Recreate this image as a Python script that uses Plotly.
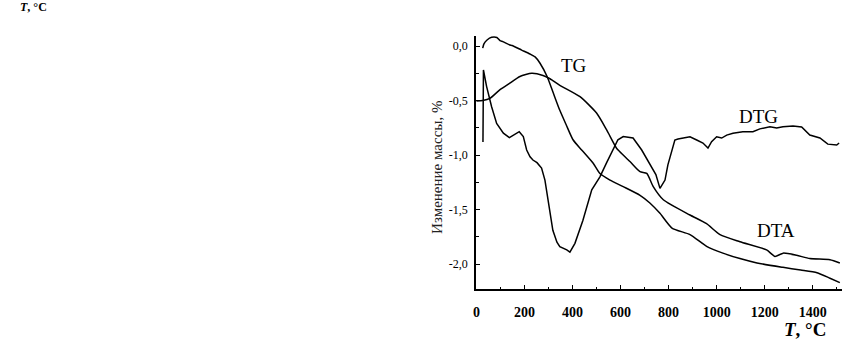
import plotly.graph_objects as go

# ---- data ----
tg_T = [26, 31, 44, 63, 85, 98, 110, 139, 148, 188, 223, 244, 264, 294, 318, 347, 373, 402,
        438, 486, 514, 556, 611, 681, 722, 764, 814, 889, 960, 1026, 1097, 1168, 1276, 1350,
        1418, 1472, 1513]
tg_v = [-0.02, 0.02, 0.055, 0.08, 0.078, 0.049, 0.04, 0.009, 0.005, -0.037, -0.073, -0.10,
        -0.156, -0.28, -0.42, -0.59, -0.72, -0.86, -0.954, -1.076, -1.17, -1.23, -1.29, -1.37,
        -1.44, -1.535, -1.67, -1.73, -1.84, -1.90, -1.95, -1.99, -2.03, -2.055, -2.08, -2.13, -2.17]

dta_T = [0, 26, 56, 98, 139, 181, 230, 277, 306, 347, 431, 500, 542, 584, 597, 639, 681,
         709, 736, 778, 889, 958, 1014, 1097, 1208, 1243, 1277, 1333, 1388, 1472, 1513]
dta_v = [-0.505, -0.50, -0.48, -0.40, -0.34, -0.28, -0.25, -0.27, -0.30, -0.36, -0.465,
         -0.615, -0.77, -0.94, -0.97, -1.06, -1.153, -1.168, -1.29, -1.41, -1.55, -1.63,
         -1.73, -1.795, -1.87, -1.93, -1.90, -1.92, -1.95, -1.96, -1.99]

dtg_T = [27, 29, 42, 63, 84, 112, 137, 160, 178, 195, 209, 223, 235, 252, 271, 285, 298,
         318, 335, 347, 376, 389, 410, 443, 480, 514, 542, 568, 589, 611, 652, 688, 729,
         747, 764, 785, 797, 813, 826, 839, 889, 917, 943, 964, 979, 1000, 1021, 1042,
         1068, 1109, 1151, 1180, 1222, 1250, 1276, 1318, 1354, 1388, 1430, 1463, 1500, 1510]
dtg_v = [-0.88, -0.22, -0.37, -0.557, -0.71, -0.80, -0.84, -0.81, -0.786, -0.83, -0.954,
         -1.016, -1.046, -1.07, -1.12, -1.23, -1.41, -1.69, -1.80, -1.84, -1.87, -1.89,
         -1.81, -1.60, -1.32, -1.20, -1.07, -0.954, -0.86, -0.83, -0.844, -0.954, -1.107,
         -1.18, -1.306, -1.23, -1.09, -0.954, -0.862, -0.853, -0.832, -0.862, -0.89, -0.936,
         -0.878, -0.832, -0.844, -0.817, -0.80, -0.786, -0.786, -0.76, -0.74, -0.752, -0.74,
         -0.734, -0.743, -0.817, -0.844, -0.90, -0.908, -0.89]

x_ticks = [0, 200, 400, 600, 800, 1000, 1200, 1400]
x_tick_text = ["0", "200", "400", "600", "800", "1000", "1200", "1400"]
y_ticks = [0.0, -0.5, -1.0, -1.5, -2.0]
y_tick_text = ["0,0", "-0,5", "-1,0", "-1,5", "-2,0"]

curve_labels = ["TG", "DTG", "DTA"]
label_T = [408, 1174, 1247]
label_v = [-0.174, -0.651, -1.688]

FONT = "Liberation Serif, Times New Roman, serif"

fig = go.Figure()
line = dict(color="black", width=1.5)
fig.add_trace(go.Scatter(x=tg_T, y=tg_v, mode="lines", line=dict(line, shape="spline", smoothing=0.6)))
fig.add_trace(go.Scatter(x=dta_T, y=dta_v, mode="lines", line=dict(line, shape="spline", smoothing=0.6)))
fig.add_trace(go.Scatter(x=dtg_T, y=dtg_v, mode="lines", line=line))

for txt, tx, ty in zip(curve_labels, label_T, label_v):
    fig.add_annotation(x=tx, y=ty, xref="x", yref="y", text=txt, showarrow=False,
                       xanchor="center", yanchor="middle",
                       font=dict(family=FONT, size=19, color="black"))

# axis title (x)
fig.add_annotation(x=0.899, y=-0.162, xref="paper", yref="paper", text="<b><i>T</i>, °C</b>",
                   xanchor="center", yanchor="middle",
                   showarrow=False, font=dict(family=FONT, size=19, color="black"))
# rotated y title
fig.add_annotation(x=-0.107, y=0.482, xref="paper", yref="paper", text="Изменение массы, %",
                   xanchor="center", yanchor="middle",
                   textangle=-90, showarrow=False, font=dict(family=FONT, size=15, color="#222"))
# label at top-left
fig.add_annotation(x=-1.252, y=1.115, xref="paper", yref="paper", xanchor="left", yanchor="middle",
                   text="<b><i>T</i>, °C</b>", showarrow=False,
                   font=dict(family=FONT, size=12, color="black"))

fig.update_layout(
    width=848, height=347,
    margin=dict(l=476, r=6, t=36, b=58),
    paper_bgcolor="white", plot_bgcolor="white",
    showlegend=False,
    font=dict(family=FONT, color="black"),
)
fig.update_xaxes(
    range=[-2, 1522], showgrid=False, zeroline=False,
    showline=True, linecolor="black", linewidth=1.5,
    tickmode="array", tickvals=x_ticks, ticktext=x_tick_text,
    ticks="inside", ticklen=4, tickwidth=1, tickcolor="black",
    ticklabelstandoff=9,
    tickfont=dict(family=FONT, size=14, color="black", weight="bold"),
    minor=dict(tickmode="linear", tick0=0, dtick=100, ticks="inside", ticklen=2.5,
               tickcolor="black", tickwidth=1),
)
fig.update_yaxes(
    range=[-2.229, 0.092], showgrid=False, zeroline=False,
    showline=True, linecolor="black", linewidth=1.5,
    tickmode="array", tickvals=y_ticks, ticktext=y_tick_text,
    ticks="inside", ticklen=4, tickwidth=1, tickcolor="black",
    ticklabelstandoff=4,
    tickfont=dict(family=FONT, size=12, color="black"),
    minor=dict(tickmode="linear", tick0=0, dtick=0.25, ticks="inside", ticklen=3,
               tickcolor="black", tickwidth=1),
)

fig.write_html("out.html", config={"displayModeBar": False},
               post_script="document.body.style.margin='0px';")
